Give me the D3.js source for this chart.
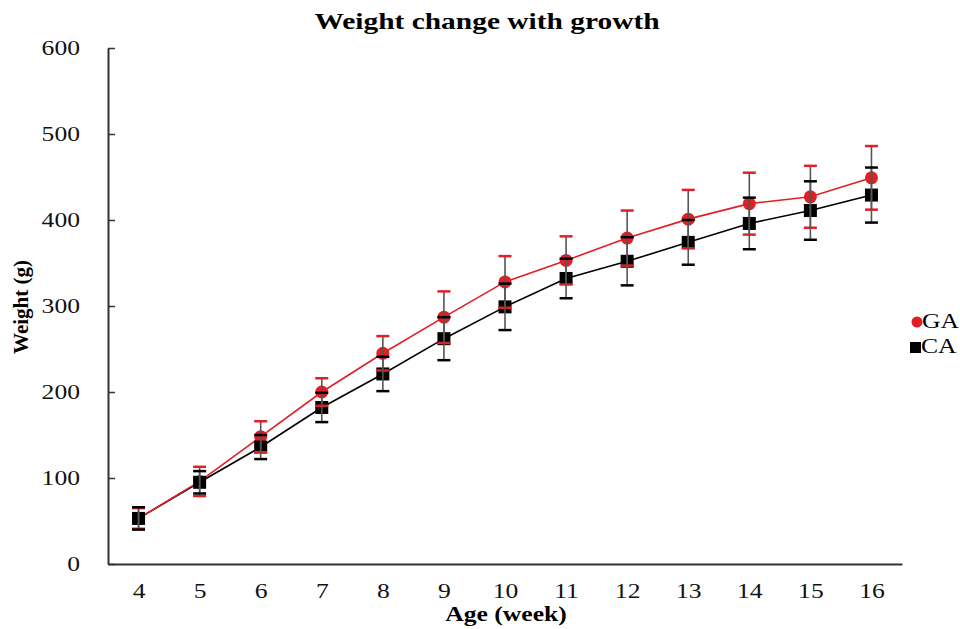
<!DOCTYPE html>
<html>
<head>
<meta charset="utf-8">
<script src="https://cdn.jsdelivr.net/npm/d3@7/dist/d3.min.js"></script>
<style>
  html, body { margin: 0; padding: 0; background: #fff; }
  svg { display: block; }
</style>
</head>
<body>
<svg id="chart" width="960" height="629"></svg>
<script>
const weeks = [4, 5, 6, 7, 8, 9, 10, 11, 12, 13, 14, 15, 16];
const gaMean = [53, 96, 148, 200, 245, 287, 328, 353, 379, 401, 419, 427, 449];
const gaErr  = [12, 17, 18, 16, 20, 30, 30, 28, 32, 34, 36, 36, 37];
const caMean = [53, 95, 136, 182, 221, 262, 299, 332, 352, 374, 396, 411, 429];
const caErr  = [13, 13, 14, 17, 20, 25, 27, 23, 28, 26, 30, 34, 32];
const yTicks = [0, 100, 200, 300, 400, 500, 600];
const seriesNames = ["GA", "CA"];

const svg = d3.select("#chart");
const serif = "'Liberation Serif', 'Times New Roman', serif";
const SX = 1.28; // horizontal stretch of the reference text

function stretch(sel) {
  sel.each(function () {
    const t = d3.select(this);
    const tx = +t.attr("x") || 0, ty = +t.attr("y") || 0;
    t.attr("x", 0).attr("y", 0).attr("transform", `translate(${tx},${ty}) scale(${SX},1)`);
  });
}

const x = d3.scalePoint().domain(weeks).range([108, 902]).padding(0.5);
const y = d3.scaleLinear().domain([0, 600]).range([564, 48]);

// Title
svg.append("text").attr("x", 487).attr("y", 29).attr("text-anchor", "middle")
  .attr("font-family", serif).attr("font-weight", "bold").attr("font-size", 23)
  .text("Weight change with growth").call(stretch);

// Y axis
const yAxis = d3.axisLeft(y).tickValues(yTicks).tickSizeInner(-7).tickSizeOuter(0).tickPadding(28);
const gy = svg.append("g").attr("transform", "translate(108,0)").call(yAxis);
gy.select(".domain").attr("stroke", "#333").attr("stroke-width", 2);
gy.selectAll(".tick line").attr("stroke", "#333").attr("stroke-width", 1.5);
gy.selectAll(".tick text").attr("font-family", serif).attr("font-size", 20).attr("fill", "#111").call(stretch);

// X axis
const xAxis = d3.axisBottom(x).tickSize(0).tickPadding(20);
const gx = svg.append("g").attr("transform", "translate(0,564)").call(xAxis);
gx.select(".domain").attr("stroke", "#333").attr("stroke-width", 2);
gx.selectAll(".tick text").attr("font-family", serif).attr("font-size", 20).attr("fill", "#111").call(stretch);

// Axis titles
svg.append("text").attr("x", 506).attr("y", 621).attr("text-anchor", "middle")
  .attr("font-family", serif).attr("font-weight", "bold").attr("font-size", 20)
  .text("Age (week)").call(stretch);
svg.append("text").attr("transform", "translate(28,307) rotate(-90)").attr("text-anchor", "middle")
  .attr("font-family", serif).attr("font-weight", "bold").attr("font-size", 21)
  .text("Weight (g)");

const series = [
  { name: seriesNames[0], mean: gaMean, err: gaErr, color: "#e11f24", shape: "circle" },
  { name: seriesNames[1], mean: caMean, err: caErr, color: "#000000", shape: "square" }
];

const line = d3.line().x(d => x(d.w)).y(d => y(d.v));

// lines (CA first, then GA)
[series[1], series[0]].forEach(s => {
  const pts = weeks.map((w, i) => ({ w, v: s.mean[i] }));
  svg.append("path").datum(pts).attr("d", line).attr("fill", "none")
    .attr("stroke", s.color).attr("stroke-width", 1.6);
});

// markers
series.forEach(s => {
  const pts = weeks.map((w, i) => ({ w, v: s.mean[i] }));
  if (s.shape === "circle") {
    svg.append("g").selectAll("circle").data(pts).join("circle")
      .attr("cx", d => x(d.w)).attr("cy", d => y(d.v)).attr("r", 6.5).attr("fill", s.color);
  } else {
    svg.append("g").selectAll("rect").data(pts).join("rect")
      .attr("x", d => x(d.w) - 6.5).attr("y", d => y(d.v) - 6.5)
      .attr("width", 13).attr("height", 13).attr("fill", s.color);
  }
});

// error bars
series.forEach(s => {
  const pts = weeks.map((w, i) => ({ w, v: s.mean[i], e: s.err[i] }));
  const g = svg.append("g");
  g.selectAll("line.v").data(pts).join("line").attr("class", "v")
    .attr("x1", d => x(d.w)).attr("x2", d => x(d.w))
    .attr("y1", d => y(d.v + d.e)).attr("y2", d => y(d.v - d.e))
    .attr("stroke", "#555").attr("stroke-width", 1.6);
  ["+", "-"].forEach(sign => {
    g.selectAll("line.c" + (sign === "+" ? "u" : "l")).data(pts).join("line")
      .attr("class", "c" + (sign === "+" ? "u" : "l"))
      .attr("x1", d => x(d.w) - 6.5).attr("x2", d => x(d.w) + 6.5)
      .attr("y1", d => y(sign === "+" ? d.v + d.e : d.v - d.e))
      .attr("y2", d => y(sign === "+" ? d.v + d.e : d.v - d.e))
      .attr("stroke", s.color).attr("stroke-width", 2.5);
  });
});

// Legend
const lg = svg.append("g");
lg.append("circle").attr("cx", 917).attr("cy", 322).attr("r", 5.5).attr("fill", series[0].color);
lg.append("text").attr("x", 922).attr("y", 328).attr("font-family", serif).attr("font-size", 20)
  .text(series[0].name).call(stretch);
lg.append("rect").attr("x", 910).attr("y", 342).attr("width", 11).attr("height", 11).attr("fill", "#000");
lg.append("text").attr("x", 921).attr("y", 353).attr("font-family", serif).attr("font-size", 20)
  .text(series[1].name).call(stretch);
</script>
</body>
</html>
